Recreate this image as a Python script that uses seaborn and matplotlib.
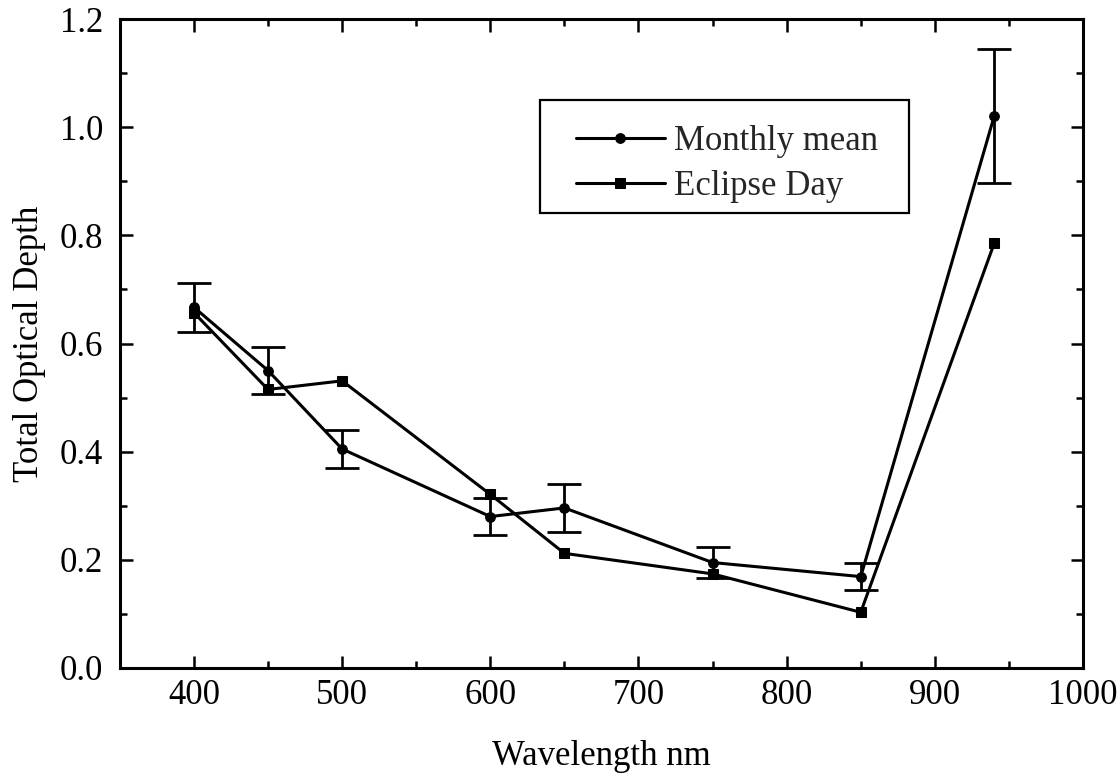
import numpy as np
import pandas as pd
import matplotlib
matplotlib.use("Agg")
import matplotlib.pyplot as plt
import seaborn as sns
from matplotlib.ticker import MultipleLocator, FormatStrFormatter
from matplotlib.patches import Rectangle

# data
wavelength = [400, 450, 500, 600, 650, 750, 850, 940]
monthly_mean = [0.667, 0.550, 0.405, 0.280, 0.296, 0.195, 0.169, 1.020]
monthly_err = [0.045, 0.044, 0.035, 0.035, 0.044, 0.028, 0.025, 0.124]
eclipse_day = [0.657, 0.515, 0.531, 0.321, 0.212, 0.174, 0.103, 0.785]

df = pd.DataFrame({
  "Wavelength": wavelength * 2,
  "Depth": monthly_mean + eclipse_day,
  "Series": ["Monthly mean"] * len(wavelength) + ["Eclipse Day"] * len(wavelength),
})

sns.set_theme(style="ticks")
plt.rcParams["font.family"] = ["Liberation Serif", "DejaVu Serif"]

fig = plt.figure(figsize=(11.2, 7.8), dpi=100)
ax = fig.add_axes([0.107, 0.1436, 0.86, 0.832])

# error bars on the monthly mean
ax.errorbar(wavelength, monthly_mean, yerr=monthly_err, fmt="none",
            ecolor="black", elinewidth=2, capsize=12, capthick=2, zorder=2)

sns.lineplot(data=df, x="Wavelength", y="Depth", style="Series",
             markers={"Monthly mean": "o", "Eclipse Day": "s"},
             dashes=False, color="black", linewidth=2.2, markersize=7,
             markeredgecolor="black", ax=ax, zorder=3)

ax.set_xlim(350, 1000)
ax.set_ylim(0.0, 1.2)
ax.xaxis.set_major_locator(MultipleLocator(100))
ax.xaxis.set_minor_locator(MultipleLocator(50))
ax.yaxis.set_major_locator(MultipleLocator(0.2))
ax.yaxis.set_minor_locator(MultipleLocator(0.1))
ax.yaxis.set_major_formatter(FormatStrFormatter("%.1f"))

ax.tick_params(which="both", direction="in", top=True, right=True,
               colors="black", width=1.8)
ax.tick_params(which="major", length=9, labelsize=25)
ax.tick_params(which="minor", length=5)
ax.tick_params(axis="x", which="major", pad=8)
ax.tick_params(axis="y", which="major", pad=12)

for s in ax.spines.values():
  s.set_linewidth(2.2)
  s.set_color("black")

ax.set_xlabel("Wavelength nm", fontsize=25, labelpad=20, color="black")
ax.set_ylabel("Total Optical Depth", fontsize=25, labelpad=10, color="black")

# legend frame drawn by hand (wider on the right than the text)
ax.add_patch(Rectangle((0.436, 0.701), 0.383, 0.174, transform=ax.transAxes,
                       fill=False, edgecolor="black", linewidth=1.6, zorder=4))

handles, labels = ax.get_legend_handles_labels()
leg = ax.legend(handles, labels, loc="upper left", bbox_to_anchor=(0.4735, 0.837),
                fontsize=25, frameon=False, handlelength=2.56, handletextpad=0.26,
                borderpad=0, labelspacing=0.36, borderaxespad=0)

fig.savefig("out.png", dpi=100, facecolor="white")
